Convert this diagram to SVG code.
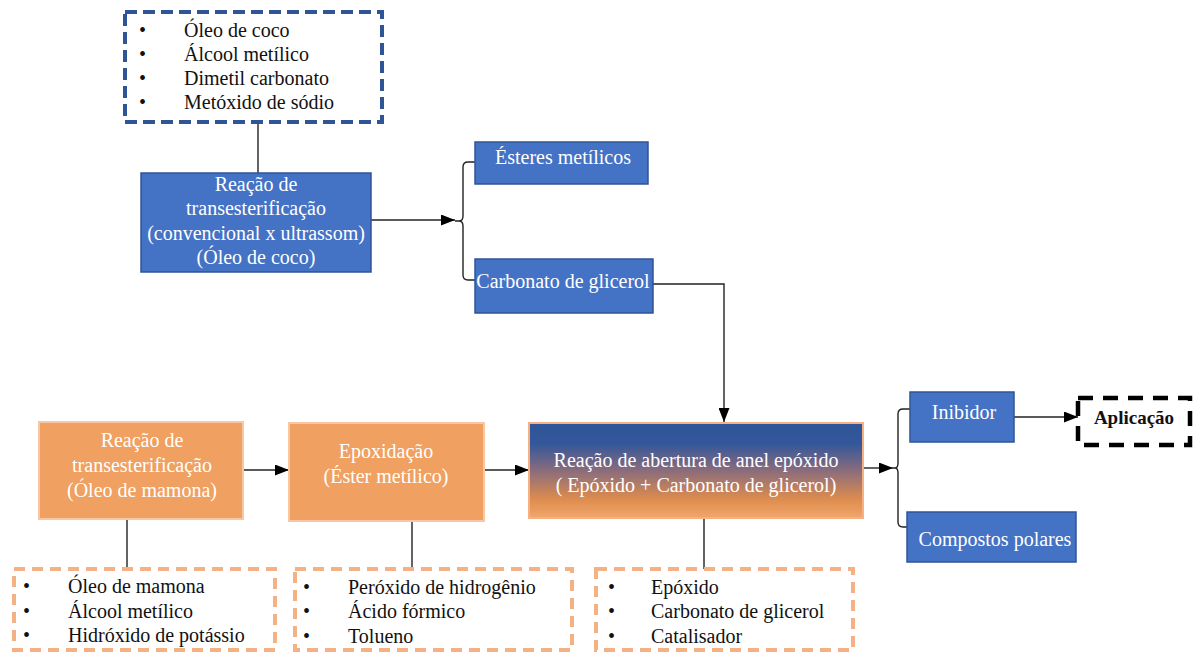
<svg xmlns="http://www.w3.org/2000/svg" width="1194" height="654" viewBox="0 0 1194 654">
<style>
text{font-family:"Liberation Serif","Times New Roman",serif;font-size:20px}
.w{fill:#ffffff}
.k{fill:#111111}
.c{text-anchor:middle}
.blue{fill:#4472C4;stroke:#2F5597;stroke-width:1.5}
.orange{fill:#F0A060;stroke:#F8C8A4;stroke-width:2}
.dblue{fill:#ffffff;stroke:#2F5597;stroke-width:4;stroke-dasharray:12 6}
.dorange{fill:#ffffff;stroke:#F4B183;stroke-width:4;stroke-dasharray:11 7}
.dblack{fill:#ffffff;stroke:#000000;stroke-width:4.5;stroke-dasharray:15 10}
.ln{fill:none;stroke:#222222;stroke-width:1.4}
</style>
<defs>
<marker id="arr" viewBox="0 0 14 11" refX="14" refY="5.5" markerWidth="14" markerHeight="11" markerUnits="userSpaceOnUse" orient="auto">
<path d="M0,0 L14,5.5 L0,11 Z" fill="#000000"/>
</marker>
<linearGradient id="grad" x1="0" y1="0" x2="0" y2="1">
<stop offset="0" stop-color="#2D5597"/>
<stop offset="0.22" stop-color="#34579A"/>
<stop offset="0.5" stop-color="#8A6C7C"/>
<stop offset="0.8" stop-color="#DD8C4E"/>
<stop offset="1" stop-color="#F2A66A"/>
</linearGradient>
</defs>

<g id="connectors">
<line class="ln" x1="258" y1="122" x2="258" y2="173"/>
<line class="ln" x1="371" y1="220" x2="455" y2="220" marker-end="url(#arr)"/>
<path class="ln" d="M455,221 H459 Q463,221 463,216 V167 Q463,162 468,162 H475 M459,221 Q463,221 463,226 V275 Q463,280 468,280 H475"/>
<path class="ln" d="M653,284 H724 V422" marker-end="url(#arr)"/>
<line class="ln" x1="243" y1="470" x2="289" y2="470" marker-end="url(#arr)"/>
<line class="ln" x1="484" y1="470" x2="529" y2="470" marker-end="url(#arr)"/>
<line class="ln" x1="863" y1="468" x2="893" y2="468" marker-end="url(#arr)"/>
<path class="ln" d="M893,468 H895 Q898,468 898,463 V414 Q898,409 903,409 H910 M895,468 Q898,468 898,473 V522 Q898,527 903,527 H907"/>
<line class="ln" x1="1014" y1="417" x2="1078" y2="417" marker-end="url(#arr)"/>
<line class="ln" x1="127" y1="519" x2="127" y2="568"/>
<line class="ln" x1="412" y1="522" x2="412" y2="568"/>
<line class="ln" x1="704" y1="518" x2="704" y2="569"/>
</g>

<g id="list-coco">
<rect class="dblue" x="125" y="12" width="257" height="110"/>
<text class="k" x="139" y="37">•</text><text class="k" x="184" y="37">Óleo de coco</text>
<text class="k" x="139" y="61">•</text><text class="k" x="184" y="61">Álcool metílico</text>
<text class="k" x="139" y="85">•</text><text class="k" x="184" y="85">Dimetil carbonato</text>
<text class="k" x="139" y="109">•</text><text class="k" x="184" y="109">Metóxido de sódio</text>
</g>

<g id="transest-coco">
<rect class="blue" x="141" y="173" width="230" height="99"/>
<text class="w c" x="256" y="191">Reação de</text>
<text class="w c" x="256" y="215">transesterificação</text>
<text class="w c" x="256" y="240">(convencional x ultrassom)</text>
<text class="w c" x="256" y="264">(Óleo de coco)</text>
</g>

<g id="esteres">
<rect class="blue" x="475" y="142" width="173" height="42"/>
<text class="w c" x="563" y="164">Ésteres metílicos</text>
</g>

<g id="carbonato">
<rect class="blue" x="475" y="259" width="178" height="54"/>
<text class="w c" x="563" y="288">Carbonato de glicerol</text>
</g>

<g id="transest-mamona">
<rect class="orange" x="39" y="422" width="204" height="97"/>
<text class="w c" x="142" y="447">Reação de</text>
<text class="w c" x="142" y="472">transesterificação</text>
<text class="w c" x="142" y="497">(Óleo de mamona)</text>
</g>

<g id="epoxidacao">
<rect class="orange" x="289" y="423" width="195" height="98"/>
<text class="w c" x="386" y="458">Epoxidação</text>
<text class="w c" x="386" y="483">(Éster metílico)</text>
</g>

<g id="abertura">
<rect x="529" y="423" width="334" height="95" fill="url(#grad)" stroke="#F4B183" stroke-width="2"/>
<text class="w c" x="696" y="467">Reação de abertura de anel epóxido</text>
<text class="w c" x="696" y="492">( Epóxido + Carbonato de glicerol)</text>
</g>

<g id="inibidor">
<rect class="blue" x="910" y="392" width="104" height="50"/>
<text class="w c" x="964" y="419">Inibidor</text>
</g>

<g id="compostos">
<rect class="blue" x="907" y="512" width="169" height="50"/>
<text class="w c" x="995" y="546">Compostos polares</text>
</g>

<g id="aplicacao">
<rect class="dblack" x="1078" y="398" width="112" height="47"/>
<text class="k c" x="1134" y="424" style="font-weight:bold;font-size:19px">Aplicação</text>
</g>

<g id="list-mamona">
<rect class="dorange" x="14" y="569" width="261" height="81"/>
<text class="k" x="23" y="593">•</text><text class="k" x="68" y="593">Óleo de mamona</text>
<text class="k" x="23" y="618">•</text><text class="k" x="68" y="618">Álcool metílico</text>
<text class="k" x="23" y="642">•</text><text class="k" x="68" y="642">Hidróxido de potássio</text>
</g>

<g id="list-epox">
<rect class="dorange" x="295" y="569" width="277" height="81"/>
<text class="k" x="303" y="594">•</text><text class="k" x="348" y="594">Peróxido de hidrogênio</text>
<text class="k" x="303" y="618">•</text><text class="k" x="348" y="618">Ácido fórmico</text>
<text class="k" x="303" y="643">•</text><text class="k" x="348" y="643">Tolueno</text>
</g>

<g id="list-abertura">
<rect class="dorange" x="596" y="569" width="257" height="81"/>
<text class="k" x="608" y="594">•</text><text class="k" x="651" y="594">Epóxido</text>
<text class="k" x="608" y="618">•</text><text class="k" x="651" y="618">Carbonato de glicerol</text>
<text class="k" x="608" y="643">•</text><text class="k" x="651" y="643">Catalisador</text>
</g>
</svg>
